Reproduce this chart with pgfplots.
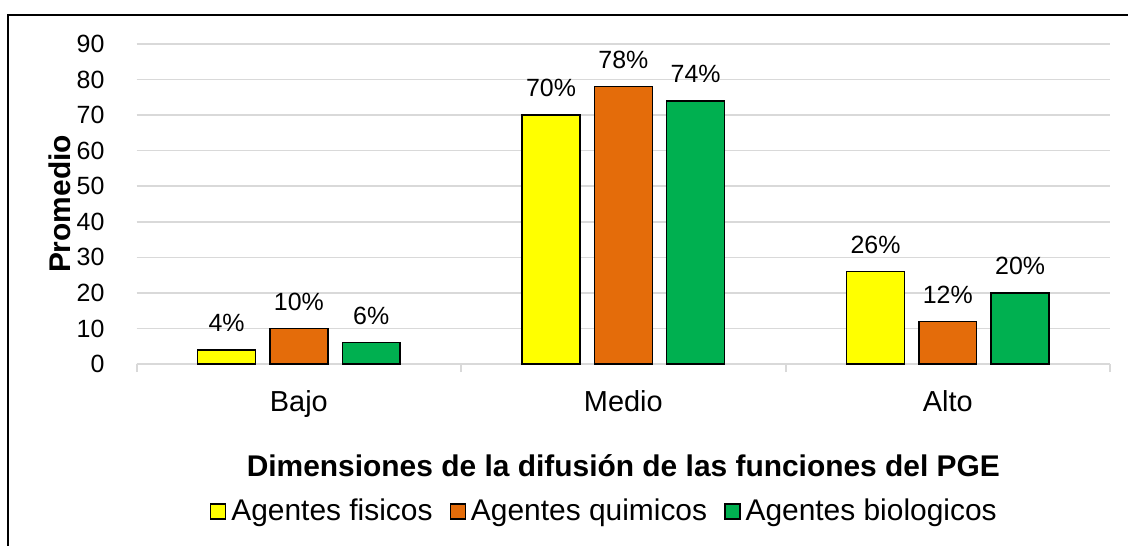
\documentclass[border=0pt]{standalone}
\usepackage{fontspec}
\setmainfont{Liberation Sans}
\usepackage{pgfplots}
\pgfplotsset{compat=1.18}

\definecolor{fis}{HTML}{FFFF00}
\definecolor{qui}{HTML}{E46C0A}
\definecolor{bio}{HTML}{00B050}
\definecolor{gridgray}{HTML}{D9D9D9}

\begin{document}
\fontsize{12.5}{15}\selectfont
\begin{tikzpicture}[font=\fontsize{12.5}{15}\selectfont]
% picture size and outer frame (1px = 0.5pt)
\path (-68.5pt,-90.5pt) rectangle (496pt,182.5pt);
\draw[line width=1pt] (-64.5pt,-91pt) -- (-64.5pt,175pt) -- (497pt,175pt);
\begin{axis}[
    at={(0,0)}, anchor=south west,
    scale only axis,
    width=488pt, height=160.5pt,
    ybar=7.25pt, bar width=29pt,
    xmin=-0.5, xmax=2.5,
    ymin=0, ymax=90,
    ytick={0,10,...,90},
    xtick={0,1,2},
    xticklabels={Bajo,Medio,Alto},
    major x tick style={draw=none},
    minor xtick={-0.5,0.5,1.5,2.5},
    minor x tick style={draw=gridgray, line width=1pt},
    minor tick length=4pt,
    tick align=outside,
    ytick style={draw=none},
    axis x line*=bottom, axis y line*=left,
    y axis line style={draw=none},
    x axis line style={draw=gridgray, line width=1pt, -},
    ymajorgrids, grid style={draw=gridgray, line width=0.75pt},
    /pgf/number format/assume math mode=true,
    yticklabel style={xshift=-7.5pt},
    xticklabel style={yshift=-4.5pt, font=\fontsize{14.5}{17}\selectfont},
    ylabel={\bfseries Promedio},
    ylabel style={at={(axis description cs:-0.0789,0.5)}, anchor=center,
        font=\fontsize{15}{18}\selectfont},
    xlabel={\bfseries Dimensiones de la difusión de las funciones del PGE},
    xlabel style={at={(axis description cs:0.5,-0.318)}, anchor=center,
        font=\fontsize{15}{18}\selectfont},
    nodes near coords={\pgfmathprintnumber{\pgfplotspointmeta}\%},
    nodes near coords style={yshift=4.5pt},
    legend columns=3,
    legend style={draw=none, fill=none, at={(axis description cs:0.482,-0.46)},
        anchor=center, font=\fontsize{15}{18}\selectfont,
        /tikz/every even column/.style={column sep=6pt},
        nodes={inner xsep=2.5pt}, inner sep=0pt},
    legend image code/.code={\draw[#1, line width=0.75pt] (0pt,-3.75pt) rectangle (7.5pt,3.75pt);},
    clip=false,
]
\addplot[draw=black, line width=0.75pt, fill=fis] coordinates {(0,4) (1,70) (2,26)};
\addlegendentry{Agentes fisicos}
\addplot[draw=black, line width=0.75pt, fill=qui] coordinates {(0,10) (1,78) (2,12)};
\addlegendentry{Agentes quimicos}
\addplot[draw=black, line width=0.75pt, fill=bio] coordinates {(0,6) (1,74) (2,20)};
\addlegendentry{Agentes biologicos}
\end{axis}
\end{tikzpicture}
\end{document}
